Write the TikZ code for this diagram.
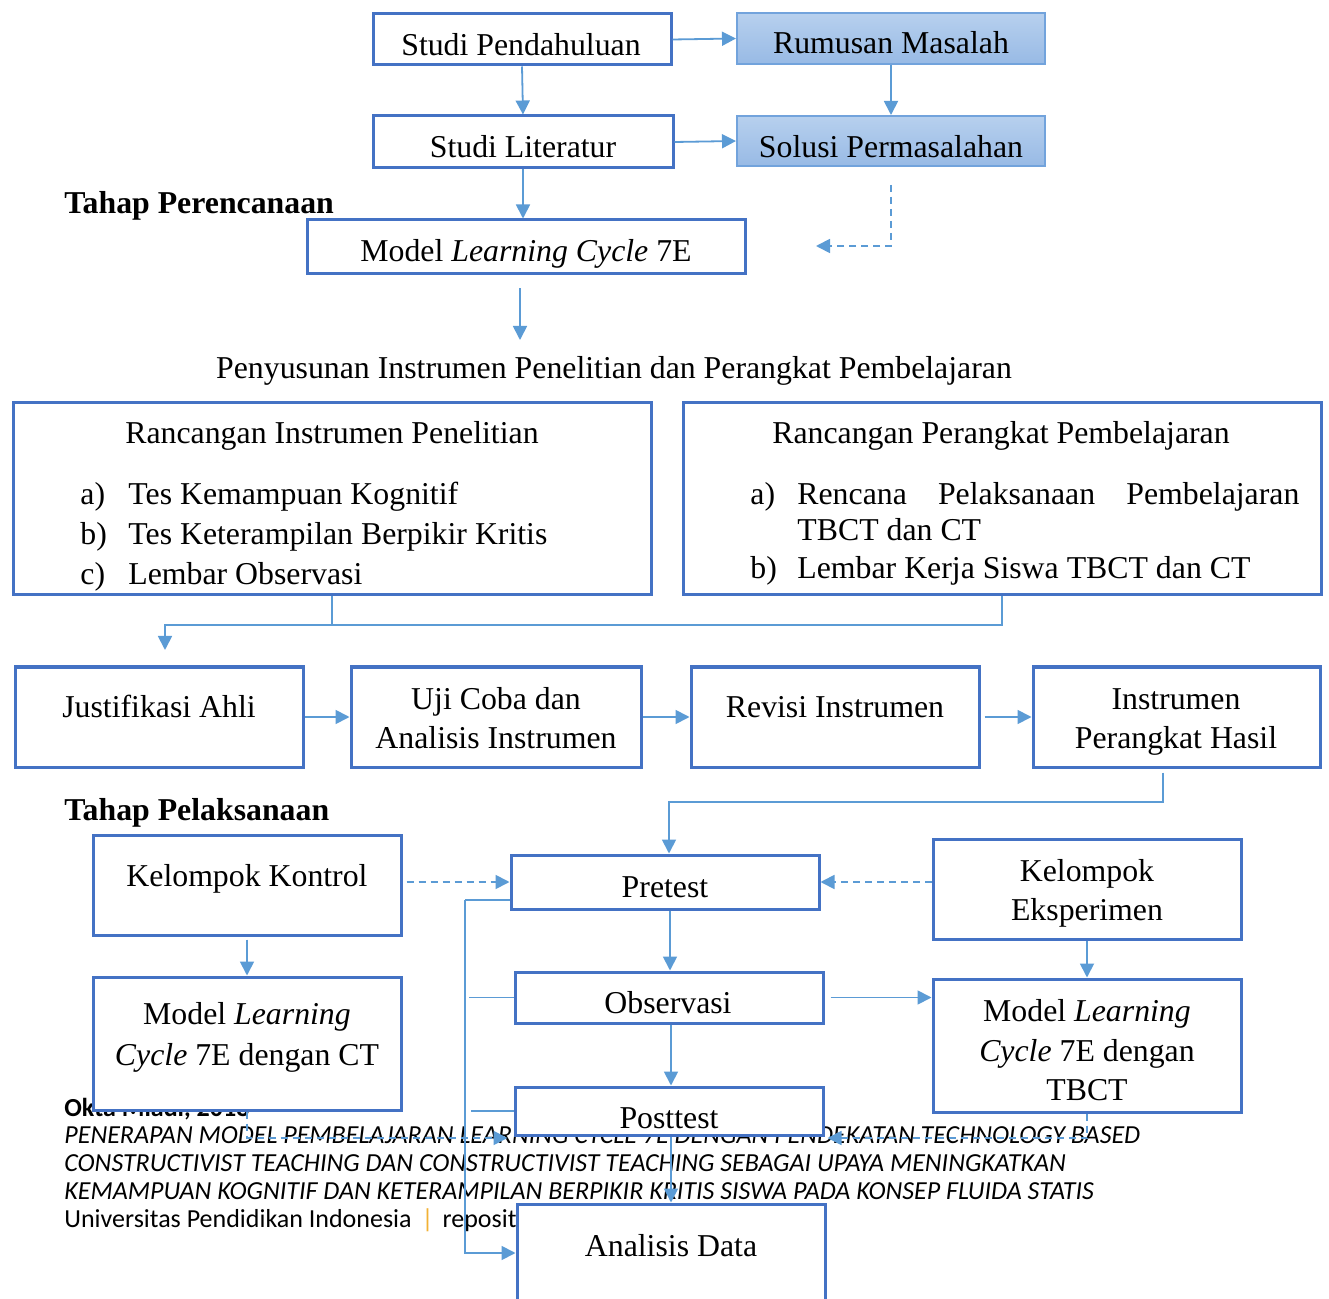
\documentclass[tikz,border=0pt]{standalone}
\usepackage{fontspec}
\setmainfont{Liberation Serif}
\newfontfamily\footfont{Carlito}
\usetikzlibrary{fit,arrows.meta,calc}
\definecolor{boxblue}{HTML}{4472C4}
\definecolor{lineblue}{HTML}{5B9BD5}
\definecolor{sborder}{HTML}{72A3DC}
\definecolor{stop}{HTML}{B7D0EE}
\definecolor{sbot}{HTML}{98BAE5}
\definecolor{gold}{HTML}{F2B134}
\newcommand{\mainsz}{\fontsize{15.9pt}{20pt}\selectfont}
\newcommand{\footsz}{\fontsize{13pt}{14pt}\selectfont\footfont}
\tikzset{
  box/.style={draw=boxblue, line width=1.5pt, fill=white, inner sep=0pt},
  sbox/.style={draw=sborder, line width=1pt, top color=stop, bottom color=sbot, inner sep=0pt},
  conn/.style={draw=lineblue, line width=0.9pt},
  arr/.style={conn, -{Triangle[length=7pt,width=7pt]}},
  darr/.style={arr, dash pattern=on 3.5pt off 2.5pt},
  txt/.style={anchor=base, inner sep=0pt, font=\mainsz, yshift=-1pt},
  ltxt/.style={anchor=base west, inner sep=0pt, font=\mainsz, yshift=-1pt},
  ftxt/.style={anchor=base west, inner sep=0pt, font=\footsz},
}
\begin{document}
\begin{tikzpicture}[x=0.5pt,y=-0.5pt]
\useasboundingbox[fill=white] (0,0) rectangle (1329,1299);
\begin{scope}
\clip (0,0) rectangle (1329,1299);
% footer text (under the diagram)
\node[ftxt, font=\footsz\bfseries] (f0) at (64,1116) {Okta Miadi, 2018};
\node[ftxt, font=\footsz\itshape] (f1) at (64,1143) {PENERAPAN MODEL PEMBELAJARAN LEARNING CYCLE 7E DENGAN PENDEKATAN TECHNOLOGY BASED};
\node[ftxt, font=\footsz\itshape] (f2) at (64,1171) {CONSTRUCTIVIST TEACHING DAN CONSTRUCTIVIST TEACHING SEBAGAI UPAYA MENINGKATKAN};
\node[ftxt, font=\footsz\itshape] (f3) at (64,1199) {KEMAMPUAN KOGNITIF DAN KETERAMPILAN BERPIKIR KRITIS SISWA PADA KONSEP FLUIDA STATIS};
\node[ftxt] (f4) at (64,1227) {Universitas Pendidikan Indonesia\hspace{5pt}{\color{gold}|}\hspace{4.5pt}repository.upi.edu};

% boxes
\node[box, fit={(373,14) (671,65)}] (sp) {};
\node[sbox, fit={(737,13) (1045,64)}] (rm) {};
\node[box, fit={(373,116) (673,168)}] (sl) {};
\node[sbox, fit={(737,116) (1045,166)}] (sol) {};
\node[box, fit={(307,220) (745,274)}] (mlc) {};
\node[box, fit={(13,403) (651,595)}] (rip) {};
\node[box, fit={(683,403) (1321,595)}] (rpp) {};
\node[box, fit={(15,667) (303,767)}] (ja) {};
\node[box, fit={(351,667) (641,767)}] (uc) {};
\node[box, fit={(691,667) (979,767)}] (ri) {};
\node[box, fit={(1033,667) (1320,767)}] (iph) {};
\node[box, fit={(93,835) (401,935)}] (kk) {};
\node[box, fit={(511,855) (819,909)}] (pre) {};
\node[box, fit={(933,839) (1241,939)}] (ke) {};
\node[box, fit={(515,972) (823,1023)}] (obs) {};
\node[box, fit={(93,977) (401,1110)}] (mct) {};
\node[box, fit={(933,979) (1241,1112)}] (mtb) {};
\node[box, fit={(515,1087) (823,1135)}] (post) {};
\node[box, fit={(517,1204) (825,1320)}] (ad) {};

% texts
\node[txt] (tsp) at (521,54) {Studi Pendahuluan};
\node[txt] (trm) at (891,52) {Rumusan Masalah};
\node[txt] (tsl) at (523,156) {Studi Literatur};
\node[txt] (tsol) at (891,156) {Solusi Permasalahan};
\node[ltxt, font=\mainsz\bfseries] (tp1) at (64,212) {Tahap Perencanaan};
\node[txt] (tmlc) at (526,260) {Model \textit{Learning Cycle} 7E};
\node[txt] (pen) at (614,377) {Penyusunan Instrumen Penelitian dan Perangkat Pembelajaran};
\node[txt] (trip) at (332,442) {Rancangan Instrumen Penelitian};
\node[ltxt] (ria) at (80,503) {a)};
\node[ltxt] (rit1) at (128,503) {Tes Kemampuan Kognitif};
\node[ltxt] (rib) at (80,543) {b)};
\node[ltxt] (rit2) at (128,543) {Tes Keterampilan Berpikir Kritis};
\node[ltxt] (ric) at (80,583) {c)};
\node[ltxt] (rit3) at (128,583) {Lembar Observasi};
\node[txt] (trpp) at (1001,442) {Rancangan Perangkat Pembelajaran};
\node[ltxt] (rpa) at (750,503) {a)};
\node[ltxt] (rpt1) at (797,503) {\hbox to 251pt{Rencana\hfill Pelaksanaan\hfill Pembelajaran}};
\node[ltxt] (rpt1b) at (797,539) {TBCT dan CT};
\node[ltxt] (rpb) at (750,577) {b)};
\node[ltxt] (rpt2) at (797,577) {Lembar Kerja Siswa TBCT dan CT};
\node[txt] (tja) at (159,716) {Justifikasi Ahli};
\node[txt] (tuc1) at (496,707) {Uji Coba dan};
\node[txt] (tuc2) at (496,746) {Analisis Instrumen};
\node[txt] (tri) at (835,716) {Revisi Instrumen};
\node[txt] (tiph1) at (1176,707) {Instrumen};
\node[txt] (tiph2) at (1176,746) {Perangkat Hasil};
\node[ltxt, font=\mainsz\bfseries] (tp2) at (64,818) {Tahap Pelaksanaan};
\node[txt] (tkk) at (247,884) {Kelompok Kontrol};
\node[txt] (tpre) at (665,895) {Pretest};
\node[txt] (tke1) at (1087,879) {Kelompok};
\node[txt] (tke2) at (1087,918) {Eksperimen};
\node[txt] (tobs) at (668,1011) {Observasi};
\node[txt] (tmct1) at (247,1022) {Model \textit{Learning}};
\node[txt] (tmct2) at (247,1063) {\textit{Cycle} 7E dengan CT};
\node[txt] (tmtb1) at (1087,1019) {Model \textit{Learning}};
\node[txt] (tmtb2) at (1087,1059) {\textit{Cycle} 7E dengan};
\node[txt] (tmtb3) at (1087,1098) {TBCT};
\node[txt] (tpost) at (669,1126) {Posttest};
\node[txt] (tad) at (671,1254) {Analisis Data};

% helper coordinates
\coordinate (dsend) at (816,246);
\coordinate (penin) at (520,340);
\coordinate (busL) at (165,625);
\coordinate (jaIn) at (165,650);
\coordinate (c1) at (1163,802);
\coordinate (lb) at (465,900);
\coordinate (lbend) at (465,1253);
\coordinate (dl) at (0,1138);

% connectors
\draw[arr] (sp.east) -- (rm.west);
\draw[arr] (rm.south) -- (sol.north);
\draw[arr] (sp.south) -- (sl.north);
\draw[arr] (sl.east) -- (sol.west);
\draw[arr] (sl.south) -- (sl.south |- mlc.north);
\draw[darr] ([yshift=-9pt]sol.south) |- (dsend);
\draw[arr] ($(mlc.south -| penin)+(0,13)$) -- (penin);
\draw[conn] (rip.south) -- (rip.south |- busL);
\draw[arr] (rpp.south) |- (busL) -- (jaIn);
\draw[arr] (ja.east) -- (uc.west |- ja.east);
\draw[arr] (uc.east) -- (ri.west |- uc.east);
\draw[arr, shorten <=2pt] (ri.east) -- (iph.west |- ri.east);
\draw[arr] ($(c1 |- iph.south)+(0,4)$) -- (c1) -| ([xshift=2pt]pre.north);
\draw[darr, shorten <=2pt] (kk.east |- pre.west) -- (pre.west);
\draw[darr] (ke.west |- pre.east) -- (pre.east);
\draw[arr] ([xshift=2.5pt]pre.south) -- ([xshift=2.5pt]pre.south |- obs.north);
\draw[arr] ([xshift=1pt]obs.south) -- ([xshift=1pt]obs.south |- post.north);
\draw[arr] ([xshift=1pt]post.south) -- ([xshift=1pt]post.south |- ad.north);
\draw[arr, shorten <=1.5pt] (kk.south) -- (mct.north);
\draw[arr] (ke.south) -- (ke.south |- mtb.north);
\draw[arr, shorten <=3pt] (obs.east) -- (mtb.west |- obs.east);
\draw[conn] (pre.west |- lb) -- (lb);
\draw[arr] (lb) -- (lbend) -- (lbend -| ad.west);
\draw[conn] ([xshift=2pt]lb |- obs.west) -- (obs.west);
\draw[conn] ([xshift=3pt]lb |- post.west) -- (post.west);
\draw[darr] (mct.south) |- ($(post.west |- dl)+(-6,0)$);
\draw[darr] (mtb.south) |- ($(post.east |- dl)+(3,0)$);
\end{scope}
\end{tikzpicture}
\end{document}
